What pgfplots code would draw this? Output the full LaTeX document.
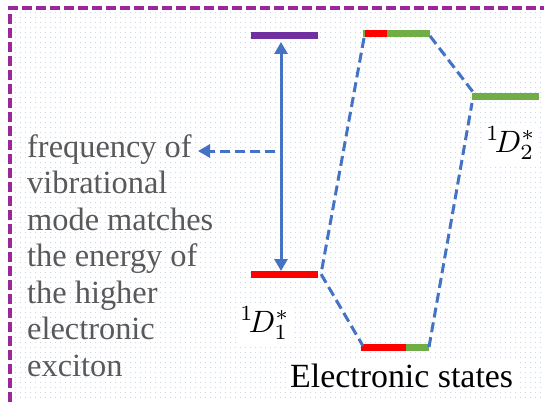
\documentclass[border=0pt]{standalone}
\usepackage{graphicx}
\usepackage{pgfplots}
\pgfplotsset{compat=1.18}
\usepackage{fontspec}
\setmainfont{Liberation Serif}
\usetikzlibrary{arrows.meta}

\definecolor{frame}{RGB}{155,40,155}
\definecolor{lvlpurple}{RGB}{112,48,160}
\definecolor{lvlred}{RGB}{255,0,0}
\definecolor{lvlgreen}{RGB}{112,173,71}
\definecolor{link}{RGB}{68,114,196}
\definecolor{note}{RGB}{89,89,89}
\definecolor{dots}{RGB}{200,213,238}

\begin{document}
\begin{tikzpicture}
\begin{axis}[
    name=ax,
    width=544bp, height=402bp, scale only axis,
    xmin=0, xmax=544, ymin=0, ymax=402, y dir=reverse,
    hide axis, clip=false,
    level/.style={line width=7bp, line cap=butt},
    dashlink/.style={link, line width=3bp, dash pattern=on 10bp off 5bp},
]
% background and dotted grid
\fill[white] (axis cs:0,0) rectangle (axis cs:544,402);
\pgfplotsinvokeforeach{15,20,...,540}{
  \draw[dots, line width=1bp, dash pattern=on 1bp off 4bp] (axis cs:#1,12) -- (axis cs:#1,402);
}

% frame
\addplot[frame, line width=3.3bp, dash pattern=on 10bp off 4bp]
  coordinates {(10,402) (10,8) (544,8)};

% energy levels
\addplot[level, lvlpurple] coordinates {(251,35.5) (318,35.5)};
\addplot[level, lvlred]    coordinates {(251,274.5) (318,274.5)};
\addplot[level, lvlgreen]  coordinates {(363,33.5) (430,33.5)};
\addplot[level, lvlred]    coordinates {(365,33.5) (387,33.5)};
\addplot[level, lvlgreen]  coordinates {(472,96) (539,96)};
\addplot[level, lvlred]    coordinates {(361,347) (406,347)};
\addplot[level, lvlgreen]  coordinates {(406,347) (429,347)};

% dashed connections
\addplot[dashlink] coordinates {(364,38) (321,274) (363,346)};
\addplot[dashlink] coordinates {(429,347) (472,103)};
\addplot[dashlink] coordinates {(430,36) (473,92)};

% vertical double arrow
\addplot[link, line width=3bp, {Triangle[length=12bp,width=13bp]}-{Triangle[length=12bp,width=13bp]}]
  coordinates {(281,42) (281,271)};
% dashed arrow to the note
\addplot[dashlink, -{Triangle[length=12bp,width=13bp]}]
  coordinates {(275,151) (198,151)};

% note text
\begin{scope}[every node/.style={anchor=base west, inner sep=0pt, text=note,
    font=\fontsize{32.5}{36.5}\selectfont}]
\node at (axis cs:27,157)   {frequency of};
\node at (axis cs:27,193.5) {vibrational};
\node at (axis cs:27,230)   {mode matches};
\node at (axis cs:27,266.5) {the energy of};
\node at (axis cs:27,303)   {the higher};
\node at (axis cs:27,339.5) {electronic};
\node at (axis cs:27,376)   {exciton};
\end{scope}

% state labels
\node[anchor=base west, fill=white, inner sep=4bp]
  at (axis cs:236,332) {\scalebox{3.1}{${}^1\!D_1^*$}};
\node[anchor=base west, fill=white, inner sep=3bp]
  at (axis cs:483,152) {\scalebox{3.1}{${}^1\!D_2^*$}};
\node[anchor=base west, fill=white, inner sep=3bp, font=\fontsize{34}{40}\selectfont]
  at (axis cs:287,387) {Electronic states};
\end{axis}
\pgfresetboundingbox
\path (ax.south west) rectangle (ax.north east);
\end{tikzpicture}
\end{document}
